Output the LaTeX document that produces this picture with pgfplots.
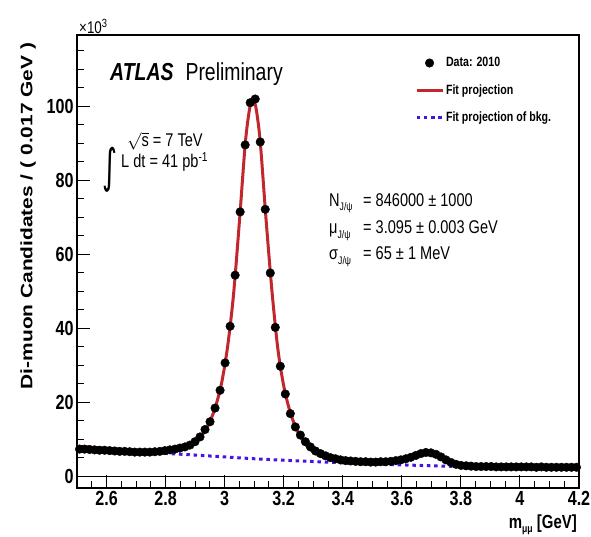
\documentclass[border=0pt]{standalone}
\usepackage{fontspec}
\setmainfont{Liberation Sans}[FakeStretch=0.79]
\newfontfamily\ylabfont{Liberation Sans}
\newfontfamily\intfont{DejaVu Sans}
\usepackage{graphicx}
\usepackage{pgfplots}
\usepackage{pgfplotstable}
\pgfplotsset{compat=1.18}
\definecolor{fitred}{RGB}{192,40,45}
\definecolor{bkgblue}{RGB}{70,20,225}
\newcommand{\fs}[1]{\fontsize{#1}{#1}\selectfont}

\pgfplotstableread{
x y
2.5085 7.3
2.5255 7.3
2.5425 7.2
2.5595 7.1
2.5765 7.0
2.5935 7.0
2.6105 6.9
2.6275 6.8
2.6445 6.7
2.6615 6.7
2.6785 6.6
2.6955 6.5
2.7125 6.5
2.7295 6.5
2.7465 6.5
2.7635 6.6
2.7805 6.7
2.7975 6.9
2.8145 7.1
2.8315 7.3
2.8485 7.6
2.8655 7.9
2.8825 8.4
2.8995 9.3
2.9165 10.6
2.9335 12.6
2.9505 14.7
2.9675 18.4
2.9845 23.2
3.0015 30.6
3.0185 40.5
3.0355 54.3
3.0525 71.4
3.0695 89.5
3.0865 100.9
3.1035 101.9
3.1205 90.3
3.1375 72.1
3.1545 54.9
3.1715 40.2
3.1885 29.7
3.2055 22.2
3.2225 16.9
3.2395 13.3
3.2565 11.1
3.2735 9.3
3.2905 7.9
3.3075 6.8
3.3245 6.1
3.3415 5.5
3.3585 5.0
3.3755 4.7
3.3925 4.4
3.4095 4.2
3.4265 4.1
3.4435 4.0
3.4605 3.9
3.4775 3.9
3.4945 3.8
3.5115 3.8
3.5285 3.9
3.5455 3.9
3.5625 4.0
3.5795 4.2
3.5965 4.4
3.6135 4.7
3.6305 5.1
3.6475 5.6
3.6645 6.1
3.6815 6.4
3.6985 6.3
3.7155 5.9
3.7325 5.2
3.7495 4.4
3.7665 3.7
3.7835 3.2
3.8005 2.9
3.8175 2.8
3.8345 2.7
3.8515 2.6
3.8685 2.6
3.8855 2.6
3.9025 2.6
3.9195 2.5
3.9365 2.5
3.9535 2.5
3.9705 2.5
3.9875 2.5
4.0045 2.5
4.0215 2.5
4.0385 2.5
4.0555 2.4
4.0725 2.5
4.0895 2.4
4.1065 2.4
4.1235 2.4
4.1405 2.4
4.1575 2.4
4.1745 2.4
4.1915 2.4
}\datatable

\pgfplotstableread{
x y
2.50 8.1
2.55 7.8
2.60 7.5
2.65 7.2
2.70 6.9
2.75 6.8
2.80 7.0
2.84 7.4
2.87 8.0
2.89 8.7
2.91 9.9
2.93 11.8
2.95 14.7
2.97 19.0
2.99 25.3
3.01 35.0
3.03 49.0
3.05 68.8
3.07 90.0
3.085 99.5
3.095 101.2
3.105 100.0
3.12 90.8
3.14 69.6
3.16 50.2
3.18 34.5
3.20 24.4
3.22 17.8
3.24 13.3
3.26 10.2
3.28 8.0
3.30 6.6
3.32 5.7
3.35 4.9
3.40 4.3
3.45 4.0
3.50 3.9
3.55 4.0
3.60 4.4
3.63 5.0
3.66 5.7
3.685 6.0
3.71 5.7
3.74 4.5
3.77 3.5
3.80 2.9
3.85 2.6
3.90 2.5
4.00 2.45
4.10 2.4
4.20 2.35
}\fittable

\pgfplotstableread{
x y
2.5 7.7
2.6 7.1
2.7 6.6
2.8 6.15
2.9 5.7
3.0 5.2
3.1 4.7
3.2 4.3
3.3 3.95
3.4 3.6
3.5 3.3
3.6 3.05
3.7 2.8
3.8 2.6
3.9 2.45
4.0 2.35
4.1 2.25
4.2 2.2
}\bkgtable

\begin{document}
\begin{tikzpicture}
\begin{axis}[
  at={(0,0)}, anchor=south west,
  scale only axis, width=502bp, height=453bp,
  xmin=2.5, xmax=4.2, ymin=-3.2, ymax=119.2,
  axis line style={line width=1.3bp},
  xtick={2.6,2.8,3,3.2,3.4,3.6,3.8,4,4.2},
  minor xtick={2.55,2.6,...,4.15},
  ytick={0,20,40,60,80,100},
  minor ytick={5,10,...,115},
  tick align=inside, tick pos=left,
  major tick length=13bp, minor tick length=7bp,
  every tick/.style={black, line width=1bp},
  /pgf/number format/assume math mode=true,
  ticklabel style={font=\bfseries\fs{20.5}},
  legend cell align=left,
  legend style={draw=none, fill=none, at={(0.673,0.955)}, anchor=north west,
    row sep=12bp, font=\bfseries\fs{13.5}, inner sep=0pt, nodes={inner sep=2bp}},
  legend image code/.code={\draw[mark repeat=2,mark phase=2,#1] plot coordinates {(0bp,0bp) (13bp,0bp) (26bp,0bp)};},
]
\addplot[black, line width=1bp, forget plot] coordinates {(2.5,0) (4.2,0)};
\addplot[bkgblue, line width=3bp, dash pattern=on 3.5bp off 3.8bp, forget plot] table {\bkgtable};
\addplot[only marks, mark=*, mark size=4.3bp, black] table {\datatable};
\addlegendentry{Data: 2010}
\addplot[fitred, line width=3bp, smooth] table {\fittable};
\addlegendentry{Fit projection}
\addlegendimage{bkgblue, line width=3bp, dash pattern=on 3.5bp off 3.8bp}
\addlegendentry{Fit projection of bkg.}
\end{axis}
\node[anchor=base west, inner sep=0] at (2bp,454bp) {\fs{17}×10\textsuperscript{3}};
\node[anchor=base west, inner sep=0] at (33bp,407bp) {\fs{24.7}\textbf{\textit{ATLAS}}\hspace{12bp}Preliminary};
\node[anchor=base west, inner sep=0] at (50bp,341bp) {\fs{18.5}$\sqrt{\mbox{s}}$ = 7 TeV};
\node[inner sep=0] at (32.5bp,318bp) {\scalebox{0.8}[1.3]{\intfont\fs{36}∫}};
\node[anchor=base west, inner sep=0] at (44bp,320bp) {\fs{18.5}L dt = 41 pb\textsuperscript{-1}};
\node[anchor=base west, inner sep=0] at (252bp,281bp) {\fs{18.5}N\raisebox{-4bp}{\fs{11}J/ψ}};
\node[anchor=base west, inner sep=0] at (286bp,281bp) {\fs{18.5}= 846000 ± 1000};
\node[anchor=base west, inner sep=0] at (252bp,254bp) {\fs{18.5}μ\raisebox{-5bp}{\fs{11}J/ψ}};
\node[anchor=base west, inner sep=0] at (286bp,254bp) {\fs{18.5}= 3.095 ± 0.003 GeV};
\node[anchor=base west, inner sep=0] at (252bp,228bp) {\fs{18.5}σ\raisebox{-5bp}{\fs{11}J/ψ}};
\node[anchor=base west, inner sep=0] at (286bp,228bp) {\fs{18.5}= 65 ± 1 MeV};
\node[anchor=base east, inner sep=0] at (500bp,-40bp) {\fs{19}\textbf{m\raisebox{-4bp}{\fs{11}μμ} [GeV]}};
\node[rotate=90, inner sep=0] at (-49bp,272bp) {\scalebox{1}[0.79]{\ylabfont\bfseries\fs{21}Di-muon Candidates / ( 0.017 GeV )}};
\pgfresetboundingbox
\path[use as bounding box] (-77bp,-49bp) rectangle (514bp,488bp);
\end{tikzpicture}
\end{document}
